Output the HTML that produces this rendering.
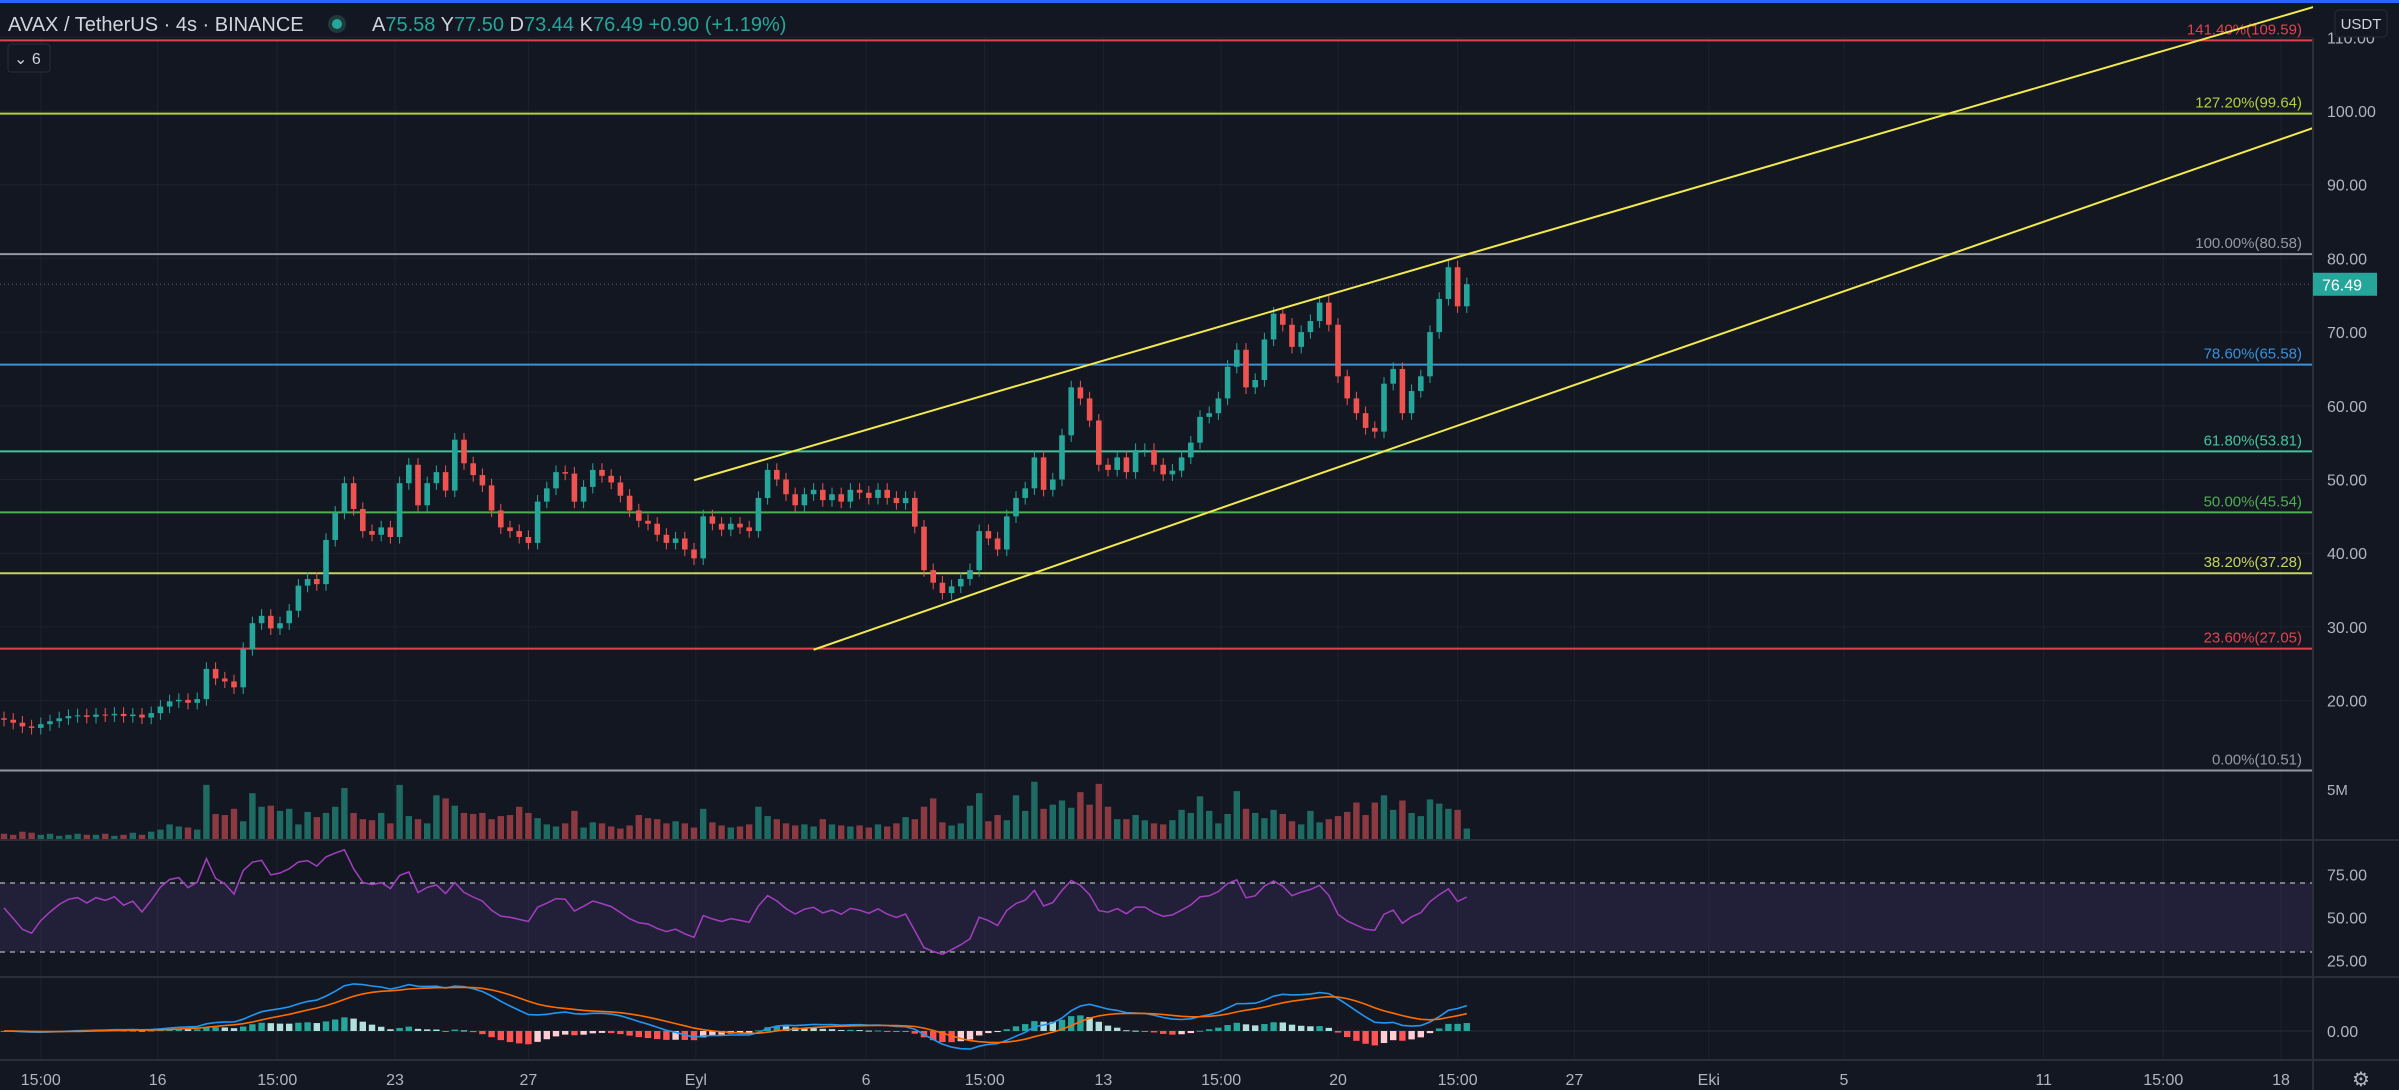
<!DOCTYPE html>
<html><head><meta charset="utf-8"><style>
html,body{margin:0;padding:0;background:#131722;overflow:hidden}
svg{display:block}
text{font-family:"Liberation Sans",sans-serif}
</style></head><body>
<svg id="chart" width="2399" height="1090" xmlns="http://www.w3.org/2000/svg">
<rect x="0" y="0" width="2399" height="1090" fill="#131722"/>
<g id="grid"></g>
<g id="fibs"></g>
<g id="candles"></g>
<g id="channel"></g>
<g id="vol"></g>
<g id="rsi"></g>
<g id="macd"></g>
<g id="axes"></g>
<rect x="0" y="0" width="2399" height="3" fill="#2962ff"/>
<text x="8" y="31" font-size="20" fill="#d1d4dc">AVAX / TetherUS · 4s · BINANCE</text>
<circle cx="337" cy="24" r="9" fill="#1e3a3a"/>
<circle cx="337" cy="24" r="5" fill="#26a69a"/>
<text x="372" y="31" font-size="20" fill="#26a69a"><tspan fill="#d1d4dc">A</tspan>75.58 <tspan fill="#d1d4dc">Y</tspan>77.50 <tspan fill="#d1d4dc">D</tspan>73.44 <tspan fill="#d1d4dc">K</tspan>76.49 +0.90 (+1.19%)</text>
<rect x="8" y="44" width="42" height="28" rx="3" fill="#131722" stroke="#2a2e39"/>
<text x="14" y="64" font-size="16" fill="#d1d4dc">⌄ 6</text>
</svg>
<script>
const closes=[17.4,17.0,16.5,16.3,16.8,17.2,17.6,17.9,18.0,17.8,
18.1,18.0,18.2,17.9,18.1,17.7,18.3,19.2,19.9,20.1,
19.7,20.2,24.3,23.0,22.6,21.8,27.0,30.5,31.5,29.8,
30.5,32.2,35.6,36.5,35.8,41.8,45.5,49.5,46.0,43.0,
42.5,43.5,42.2,49.5,52.0,46.5,49.5,51.0,48.5,55.4,
52.2,50.6,49.2,45.8,43.5,43.0,42.2,41.4,47.0,48.8,
51.0,50.8,47.0,49.0,51.3,50.5,49.6,47.8,45.8,44.4,
44.0,42.5,41.4,42.0,40.5,39.3,45.0,44.0,43.2,44.0,
43.5,43.0,47.5,51.3,50.0,48.0,46.5,48.0,48.6,47.2,
48.0,47.0,48.6,48.2,47.5,48.6,47.5,46.8,47.5,43.6,
37.7,36.0,34.6,35.5,36.5,37.7,43.0,42.0,40.5,45.0,
47.5,48.8,53.0,48.6,50.0,56.0,62.5,61.0,58.0,52.0,
51.3,53.0,51.0,54.0,54.0,52.0,50.7,51.2,53.0,55.0,
58.5,59.0,61.0,65.3,67.6,62.5,63.5,69.0,72.5,71.0,
68.0,70.0,71.5,74.0,71.0,64.0,61.0,59.0,57.0,56.5,
63.0,65.0,59.0,62.0,64.0,70.0,74.5,78.8,73.5,76.49];
const volumes=[.6,.5,.8,.7,.5,.6,.4,.5,.6,.5,
.5,.6,.4,.5,.7,.5,.8,1.0,1.5,1.3,
1.2,1.0,5.3,2.5,2.4,3.0,1.8,4.5,3.2,3.3,
2.8,3.0,1.5,2.7,2.2,2.6,3.2,5.0,2.6,2.0,
1.9,2.6,1.6,5.3,2.3,2.0,1.6,4.3,4.0,3.3,
2.6,2.5,2.6,2.0,2.3,2.4,3.2,2.6,2.1,1.5,
1.3,1.6,2.8,1.2,1.7,1.6,1.3,1.1,1.4,2.4,
2.1,2.0,1.6,1.8,1.6,1.2,3.0,1.7,1.4,1.2,
1.3,1.5,3.2,2.3,2.0,1.6,1.4,1.5,1.3,2.0,
1.5,1.4,1.3,1.4,1.2,1.5,1.3,1.6,2.2,2.0,
3.2,4.0,1.7,1.4,1.6,3.3,4.5,1.8,2.4,1.9,
4.3,2.8,5.6,3.0,3.4,3.8,3.1,4.6,3.4,5.4,
3.2,2.0,2.0,2.4,1.9,1.6,1.5,1.9,2.9,2.6,
4.2,2.8,1.6,2.5,4.7,3.0,2.6,2.1,2.9,2.5,
1.8,1.5,2.8,1.7,2.0,2.3,2.7,3.6,2.4,3.6,
4.3,2.9,3.8,2.6,2.3,3.9,3.5,3.0,2.9,1.1];
const priceTicks=[110,100,90,80,70,60,50,40,30,20];
const fibPct=["141.40%","127.20%","100.00%","78.60%","61.80%","50.00%","38.20%","23.60%","0.00%"];
const fibPrice=[109.59,99.64,80.58,65.58,53.81,45.54,37.28,27.05,10.51];
const fibColor=["#e0434f","#b5cf3c","#9598a1","#3d8fd6","#45c49a","#4caf50","#c5d45a","#e0434f","#9598a1"];
const timeLabels=["15:00","16","15:00","23","27","Eyl","6","15:00","13","15:00","20","15:00","27","Eki","5","11","15:00","18"];
const timeSlots=[4.0,16.7,29.7,42.5,57.0,75.2,93.7,106.6,119.5,132.3,145.0,158.0,170.7,185.3,200.0,221.7,234.7,247.5];
const channelUpper=[[75,49.9],[251,114.1]];
const channelLower=[[88,26.9],[251,97.7]];
const rsiTicks=[75,50,25];

const NS="http://www.w3.org/2000/svg";
function el(tag,attrs,parent,txt){const e=document.createElementNS(NS,tag);for(const k in attrs)e.setAttribute(k,attrs[k]);if(txt!==undefined)e.textContent=txt;parent.appendChild(e);return e;}
const PLOT_R=2313;
const x0=4,pitch=9.2;
const xs=i=>x0+i*pitch;
const yP=p=>111+(100-p)*7.37;
const yV=v=>840-v*10.4;
const yR=r=>883+(70-r)*1.725;
const G=id=>document.getElementById(id);

const grid=G('grid');
priceTicks.forEach(t=>{const l=el('line',{x1:0,x2:PLOT_R,y1:yP(t),y2:yP(t),stroke:'#1e222d','stroke-width':1},grid);

});
timeSlots.forEach(s=>{const l=el('line',{x1:xs(s),x2:xs(s),y1:38,y2:1060,stroke:'#1e222d','stroke-width':1},grid);

});

const fibs=G('fibs');
fibPrice.forEach((p,i)=>{const y=yP(p);
const l=el('line',{x1:0,x2:PLOT_R,y1:y,y2:y,stroke:fibColor[i],'stroke-width':2},fibs);


const t=el('text',{x:2302,y:y-6,'font-size':15,fill:fibColor[i],'text-anchor':'end'},fibs,fibPct[i]+'('+p.toFixed(2)+')');

});

const cg=G('candles');
const last=closes[closes.length-1];
const dl=el('line',{x1:0,x2:PLOT_R,y1:yP(last),y2:yP(last),stroke:'#5d606b','stroke-width':1,'stroke-dasharray':'1 3'},cg);


closes.forEach((c,i)=>{const o=i?closes[i-1]:17.6;const up=c>=o;const col=up?'#26a69a':'#ef5350';
const hi=Math.max(o,c)+0.9,lo=Math.min(o,c)-0.9;const x=xs(i);
const w=el('line',{x1:x,x2:x,y1:yP(hi),y2:yP(lo),stroke:col,'stroke-width':1},cg);


const top=yP(Math.max(o,c)),h=Math.max(1,yP(Math.min(o,c))-top);
const b=el('rect',{x:x-2.8,y:top,width:5.6,height:h,fill:col},cg);

});

const ch=G('channel');
[channelUpper,channelLower].forEach((seg,k)=>{const l=el('line',{x1:xs(seg[0][0]),y1:yP(seg[0][1]),x2:xs(seg[1][0]),y2:yP(seg[1][1]),stroke:'#f2e94e','stroke-width':2},ch);

});

const vg=G('vol');
volumes.forEach((v,i)=>{const o=i?closes[i-1]:17.6;const up=closes[i]>=o;
const r=el('rect',{x:xs(i)-3.2,y:yV(v),width:6.4,height:840-yV(v),fill:up?'#1e6b63':'#8a3a40'},vg);

});

const rg=G('rsi');
const bg=el('rect',{x:0,y:yR(70),width:PLOT_R,height:yR(30)-yR(70),fill:'rgba(126,87,194,0.14)'},rg);


[70,30].forEach(v=>{const l=el('line',{x1:0,x2:PLOT_R,y1:yR(v),y2:yR(v),stroke:'#b2b5be','stroke-width':1.2,'stroke-dasharray':'5 5'},rg);

});
const rsi=[];let ag=0.15,al=0.12;const N=14;
for(let i=0;i<closes.length;i++){const d=i?closes[i]-closes[i-1]:0;const g=Math.max(d,0),ls=Math.max(-d,0);
ag=(ag*(N-1)+g)/N;al=(al*(N-1)+ls)/N;
rsi.push(al===0?100:100-100/(1+ag/al));}
const rp=el('path',{d:rsi.map((r,i)=>(i?'L':'M')+xs(i).toFixed(1)+' '+yR(r).toFixed(1)).join(''),fill:'none',stroke:'#a23fbf','stroke-width':1.5},rg);



const mg=G('macd');
function ema(arr,n){const k=2/(n+1);const out=[];arr.forEach((v,i)=>out.push(i?v*k+out[i-1]*(1-k):v));return out;}
const e12=ema(closes,12),e26=ema(closes,26);const macd=e12.map((v,i)=>v-e26[i]);const sig=ema(macd,9);
const yM=v=>1031-v*7;
const zl=el('line',{x1:0,x2:PLOT_R,y1:1031,y2:1031,stroke:'#2a2e39','stroke-width':1},mg);


macd.forEach((m,i)=>{const h=m-sig[i];const ph=i?macd[i-1]-sig[i-1]:0;
const col=h>=0?(h>=ph?'#26a69a':'#b2dfdb'):(h<ph?'#ff5252':'#ffcdd2');
const y1=yM(Math.max(h,0)),y2=yM(Math.min(h,0));
const r=el('rect',{x:xs(i)-3.2,y:y1,width:6.4,height:Math.max(1,y2-y1),fill:col},mg);

});
const mp=el('path',{d:macd.map((v,i)=>(i?'L':'M')+xs(i).toFixed(1)+' '+yM(v).toFixed(1)).join(''),fill:'none',stroke:'#2196f3','stroke-width':1.6},mg);


const sp=el('path',{d:sig.map((v,i)=>(i?'L':'M')+xs(i).toFixed(1)+' '+yM(v).toFixed(1)).join(''),fill:'none',stroke:'#ff6d00','stroke-width':1.6},mg);



const ax=G('axes');
const ap=el('rect',{x:PLOT_R,y:3,width:2399-PLOT_R,height:1087,fill:'#131722'},ax);


[[PLOT_R,38,PLOT_R,1090],[0,840,2399,840],[0,977,2399,977],[0,1060,2399,1060]].forEach(s=>{const l=el('line',{x1:s[0],y1:s[1],x2:s[2],y2:s[3],stroke:'#2a2e39','stroke-width':2},ax);

});
priceTicks.forEach(t=>{const tx=el('text',{x:2327,y:yP(t)+6,'font-size':16,fill:'#b2b5be'},ax,t.toFixed(2));

});
const ub=el('rect',{x:2335,y:10,width:52,height:27,rx:4,fill:'#131722',stroke:'#2a2e39'},ax);


const ut=el('text',{x:2361,y:29,'font-size':15,fill:'#d1d4dc','text-anchor':'middle'},ax,'USDT');


const pt=el('rect',{x:PLOT_R,y:yP(last)-11.5,width:64,height:23,fill:'#26a69a'},ax);


const ptt=el('text',{x:2322,y:yP(last)+6,'font-size':16,fill:'#ffffff'},ax,last.toFixed(2));


const v5=el('text',{x:2327,y:795,'font-size':15,fill:'#b2b5be'},ax,'5M');


rsiTicks.forEach(t=>{const tx=el('text',{x:2327,y:yR(t)+6,'font-size':16,fill:'#b2b5be'},ax,t.toFixed(2));

});
const mz=el('text',{x:2327,y:1037,'font-size':16,fill:'#b2b5be'},ax,'0.00');


timeLabels.forEach((lb,i)=>{const tx=el('text',{x:xs(timeSlots[i]),y:1085,'font-size':16,fill:'#b2b5be','text-anchor':'middle'},ax,lb);

});
const gear=el('text',{x:2361,y:1086,'font-size':20,fill:'#b2b5be','text-anchor':'middle'},ax,'⚙');


</script>
</body></html>
